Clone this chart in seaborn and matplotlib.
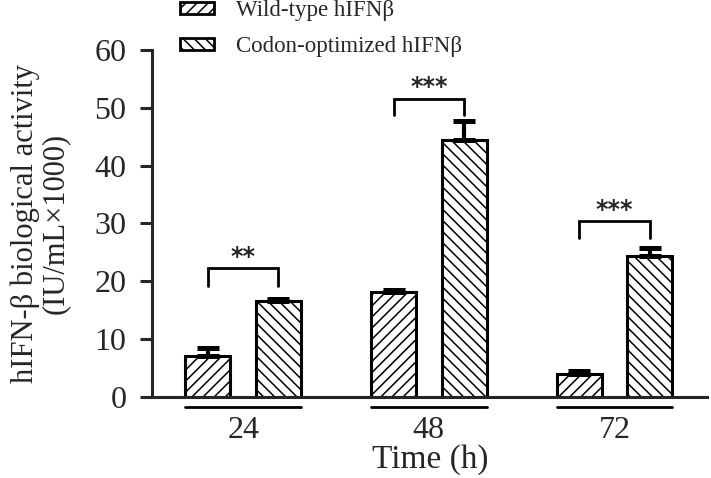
import pandas as pd
import matplotlib.pyplot as plt
import matplotlib.transforms as mtransforms
from matplotlib.patches import Patch
import seaborn as sns

# values (IU/mL x1000)
times = ['24', '48', '72']
groups = ['Wild-type hIFNβ', 'Codon-optimized hIFNβ']
wild_mean = [7.1, 18.1, 4.0]
wild_err = [1.3, 0.4, 0.4]
codon_mean = [16.5, 44.4, 24.4]
codon_err = [0.5, 3.4, 1.3]
stars = ['**', '***', '***']
bracket_top = [22.3, 51.6, 30.4]
bracket_drop = [3.2, 2.8, 2.9]

df = pd.DataFrame({
    'time': times * 2,
    'value': wild_mean + codon_mean,
    'group': [groups[0]] * 3 + [groups[1]] * 3,
})

sns.set_style('ticks')
plt.rcParams['font.family'] = ['Liberation Serif', 'DejaVu Serif']
plt.rcParams['hatch.linewidth'] = 1.1

fig, ax = plt.subplots(figsize=(7.11, 4.78), dpi=100)
fig.subplots_adjust(left=0.214, right=0.995, bottom=0.17, top=0.895)

sns.barplot(data=df, x='time', y='value', hue='group', order=times, hue_order=groups,
            palette=['white', 'white'], edgecolor='black', linewidth=2.2,
            width=0.76, gap=0.36, errorbar=None, legend=False, ax=ax)

hatches = ['///', '\\\\\\']
errs = [wild_err, codon_err]
centers = []
for cont, h, err in zip(ax.containers, hatches, errs):
    xs = []
    for bar in cont:
        bar.set_hatch(h)
        bar.set_edgecolor('black')
        xs.append(bar.get_x() + bar.get_width() / 2.)
    centers.append(xs)
    heights = [b.get_height() for b in cont]
    ax.errorbar(xs, heights, yerr=[[0] * len(err), err], fmt='none', ecolor='black',
                elinewidth=3, capsize=8, capthick=3.6, zorder=1)

# significance brackets
for i in range(len(times)):
    x1, x2 = centers[0][i], centers[1][i]
    top = bracket_top[i]
    ax.plot([x1, x1, x2, x2], [top - bracket_drop[i], top, top, top - bracket_drop[i]],
            color='black', lw=2, solid_joinstyle='miter')
    ax.text((x1 + x2) / 2, top - 0.1, stars[i], ha='center', va='bottom',
            fontsize=17, fontweight='bold', family='DejaVu Sans')

# segmented underline beneath each time group
trans = mtransforms.blended_transform_factory(ax.transData, ax.transAxes)
for i in range(len(times)):
    x1 = centers[0][i] - 0.121
    x2 = centers[1][i] + 0.121
    ax.plot([x1, x2], [-0.03, -0.03], color='black', lw=2, transform=trans, clip_on=False)

ax.set_ylim(0, 60)
ax.set_xlim(-0.49, 2.5)
ax.set_yticks(range(0, 61, 10))
ax.tick_params(axis='y', labelsize=23, width=2.2, length=8.6, direction='out', pad=10)
ax.tick_params(axis='x', labelsize=23, length=0, pad=14)
for s in ['left', 'bottom']:
    ax.spines[s].set_linewidth(2.2)
sns.despine(ax=ax)

ax.set_xlabel('Time (h)', fontsize=24, labelpad=-1)
ax.set_ylabel('hIFN-β biological activity\n(IU/mL×1000)', fontsize=22,
              linespacing=1.05)
ax.yaxis.set_label_coords(-0.148, 0.5)

handles = [Patch(facecolor='white', edgecolor='black', hatch=h, linewidth=2) for h in hatches]
fig.legend(handles, groups, loc='upper left', bbox_to_anchor=(0.253, 0.999), frameon=False,
           fontsize=16.5, handlelength=1.5, handleheight=0.4, labelspacing=0.63,
           handletextpad=0.95, borderpad=0, borderaxespad=0)

fig.savefig('out.png', dpi=100)
